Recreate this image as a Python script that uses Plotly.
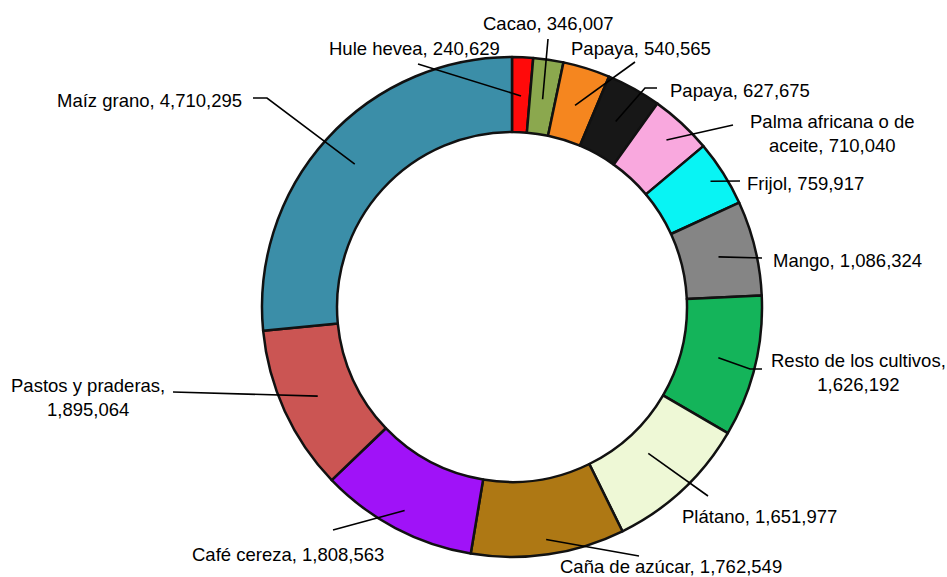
import math
import plotly.graph_objects as go

W, H = 947, 577

# Cultivos y superficie (valores en el orden de la dona, sentido horario desde las 12)
crops = [
    "Hule hevea", "Cacao", "Papaya", "Papaya", "Palma africana o de aceite",
    "Frijol", "Mango", "Resto de los cultivos", "Plátano", "Caña de azúcar",
    "Café cereza", "Pastos y praderas", "Maíz grano",
]
values = [
    240629, 346007, 540565, 627675, 710040,
    759917, 1086324, 1626192, 1651977, 1762549,
    1808563, 1895064, 4710295,
]
colors = [
    "#FF0A0A", "#8BA84E", "#F5861F", "#171717", "#F9A8DE",
    "#08F4F4", "#858585", "#14B45A", "#EEF8D6", "#AE7814",
    "#A012F8", "#CB5553", "#3B8EA8",
]
# number of words kept on the first line of a wrapped label (0 = single line)
first_line_words = [0, 0, 0, 0, 4, 0, 0, 4, 0, 0, 0, 3, 0]

# ring geometry in pixels
CX, CY, R, HOLE = 512, 307, 250, 0.70

# label anchor (x, y, xanchor) and leader-line start points, in pixels
label_pos = [
    (502, 49, "right"), (548, 24, "center"), (569, 49, "left"), (668, 90, "left"),
    (832, 133, "center"), (745, 183, "left"), (771, 260, "left"), (858, 372, "center"),
    (680, 516, "left"), (558, 566, "left"), (190, 554, "left"), (88, 397, "center"),
    (244, 101, "right"),
]
leader_start = [
    [(418, 64)], [(548, 39)], [(635, 62)], [(657, 88), (645, 88)],
    [(733, 125)], [(740, 181)], [(762, 258)], [(762, 369), (750, 369)],
    [(708, 496)], [(639, 556)], [(333, 530)], [(173, 392)],
    [(253, 98), (267, 98)],
]
# how far along the slice's middle ray each leader line reaches (fraction of R)
leader_depth = [0.845, 0.84, 0.845, 0.85, 0.91, 0.94, 0.85, 0.85,
                0.80, 0.94, 0.92, 0.855, 0.85]


def px(x):
    return x / W


def py(y):
    return 1 - y / H


fig = go.Figure()
fig.add_trace(go.Pie(
    labels=[str(i) for i in range(len(values))],
    values=values,
    hovertext=crops,
    hoverinfo="text+value",
    sort=False,
    direction="clockwise",
    rotation=0,
    hole=HOLE,
    textinfo="none",
    marker=dict(colors=colors, line=dict(color="#111111", width=2.5)),
    domain=dict(x=[px(CX - R), px(CX + R)], y=[py(CY + R), py(CY - R)]),
    showlegend=False,
))

total = sum(values)
shapes = []
annotations = []
cum = 0
for i, v in enumerate(values):
    ang = math.radians((cum + v / 2) / total * 360)
    cum += v
    r = R * leader_depth[i]
    ex = CX + r * math.sin(ang)
    ey = CY - r * math.cos(ang)
    pts = leader_start[i] + [(ex, ey)]
    path = "M " + " L ".join(f"{px(x):.5f},{py(y):.5f}" for x, y in pts)
    shapes.append(dict(type="path", path=path, xref="paper", yref="paper",
                       line=dict(color="#000000", width=1.6), layer="above"))

    text = f"{crops[i]}, {v:,}"
    n = first_line_words[i]
    if n:
        words = text.split(" ")
        text = " ".join(words[:n]) + "<br>" + " ".join(words[n:])
    lx, ly, xa = label_pos[i]
    annotations.append(dict(
        x=px(lx), y=py(ly), xref="paper", yref="paper", text=text,
        showarrow=False, xanchor=xa, yanchor="middle", align="center",
        font=dict(family="Liberation Sans, Arial, sans-serif", size=18.5, color="#000000"),
    ))

fig.update_layout(
    width=W, height=H,
    margin=dict(l=0, r=0, t=0, b=0),
    paper_bgcolor="white",
    plot_bgcolor="white",
    shapes=shapes,
    annotations=annotations,
)

fig.write_html("out.html")
